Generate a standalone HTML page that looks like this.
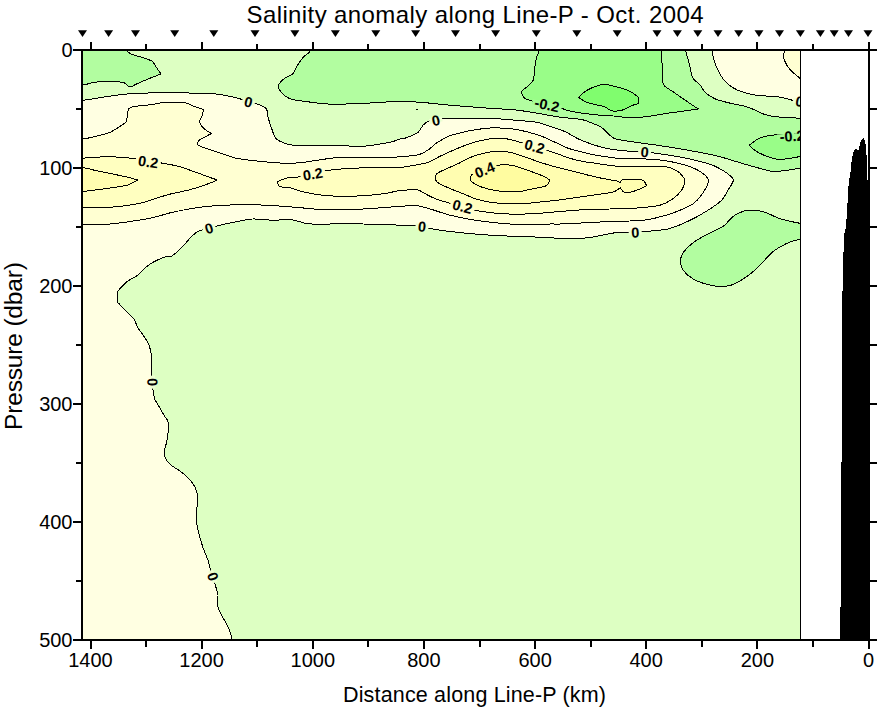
<!DOCTYPE html>
<html lang="en"><head><meta charset="utf-8"><title>Salinity anomaly along Line-P - Oct. 2004</title>
<style>html,body{margin:0;padding:0;background:#fff}body{width:878px;height:708px;overflow:hidden}svg{display:block}text{font-family:"Liberation Sans",Arial,sans-serif;fill:#000}</style></head><body>
<svg width="878" height="708" viewBox="0 0 878 708">
<rect width="878" height="708" fill="#fff"/>
<defs><clipPath id="cp"><rect x="82" y="50" width="718.5" height="590"/></clipPath></defs>
<g clip-path="url(#cp)">
<rect x="82" y="50" width="718.5" height="590" fill="#DDFFC2"/>
<g stroke="#000" stroke-width="1" stroke-linejoin="round" shape-rendering="crispEdges">
<path d="M60.0,100.3C60.0,100.3 77.0,100.6 82.0,100.3C87.0,100.0 95.2,98.4 100.0,97.7C104.8,97.0 115.0,95.3 120.0,94.7C125.0,94.1 133.8,93.5 140.0,93.2C146.2,93.0 163.1,92.7 170.0,92.7C176.9,92.7 189.9,93.0 195.5,93.2C201.1,93.4 210.7,93.5 215.0,93.9C219.3,94.3 226.6,95.7 230.0,96.4C233.4,97.1 239.0,98.6 242.6,99.6C246.2,100.6 255.9,103.5 258.9,104.7C261.9,105.9 265.2,107.3 266.4,108.9C267.6,110.5 267.6,115.4 268.2,117.7C268.8,120.0 270.4,125.0 271.4,127.7C272.4,130.4 274.0,136.9 276.4,139.0C278.8,141.1 285.6,144.0 290.2,144.8C294.8,145.6 306.9,145.2 312.8,145.3C318.8,145.4 331.9,145.2 337.8,145.3C343.8,145.5 355.1,146.7 360.4,146.5C365.7,146.3 376.4,144.6 380.5,144.0C384.6,143.4 390.6,142.1 393.0,141.5C395.4,140.9 398.4,139.4 400.0,139.0C401.6,138.6 403.3,138.8 405.5,138.0C407.7,137.2 415.6,134.2 417.8,132.6C420.0,131.0 421.8,126.5 423.2,125.0C424.6,123.5 427.8,121.6 429.4,121.0C431.0,120.4 434.2,120.5 435.8,120.2C437.4,119.9 438.3,118.8 442.4,118.5C446.5,118.2 463.0,118.2 468.3,118.2C473.6,118.2 481.0,118.2 485.0,118.3C489.0,118.4 496.1,118.7 500.0,118.9C503.9,119.2 511.8,119.9 516.4,120.3C521.0,120.7 532.1,121.4 536.9,122.3C541.7,123.2 551.1,126.6 554.7,127.8C558.3,129.0 562.5,130.5 565.6,131.9C568.7,133.3 575.5,137.7 579.3,139.4C583.1,141.1 592.0,144.3 595.7,145.5C599.5,146.7 606.3,148.3 609.3,148.9C612.3,149.5 617.4,150.0 620.0,150.3C622.6,150.6 626.9,151.1 630.0,151.3C633.1,151.5 641.0,151.7 644.7,152.0C648.5,152.3 655.6,153.2 660.0,153.8C664.4,154.4 675.0,156.1 680.0,157.0C685.0,157.9 695.6,160.2 700.0,161.4C704.4,162.6 711.9,164.8 715.4,166.4C718.9,168.0 725.8,172.2 728.0,173.9C730.2,175.6 733.4,178.2 733.4,180.2C733.4,182.2 729.5,187.7 728.0,190.2C726.5,192.7 724.2,197.7 721.7,200.2C719.2,202.7 712.0,207.7 708.0,210.2C704.0,212.7 695.0,218.0 690.0,220.3C685.0,222.7 674.7,227.5 667.8,229.0C660.9,230.5 641.6,231.8 635.0,232.3C628.4,232.8 620.9,232.1 615.0,232.8C609.1,233.5 594.5,237.1 587.6,237.8C580.7,238.5 564.6,238.3 560.0,238.3C555.4,238.3 554.8,238.0 550.4,237.8C546.0,237.6 531.3,236.8 525.0,236.5C518.7,236.2 506.2,236.1 500.0,235.8C493.8,235.5 481.2,234.5 475.0,234.0C468.8,233.5 455.3,232.1 450.0,231.5C444.7,230.9 436.1,229.6 432.6,229.0C429.1,228.4 424.5,226.9 422.0,226.5C419.5,226.1 415.2,225.9 412.5,225.7C409.8,225.5 403.1,225.3 400.0,225.2C396.9,225.1 392.6,224.8 388.0,224.7C383.4,224.5 369.3,224.2 363.0,224.0C356.7,223.8 342.8,223.1 337.8,223.2C332.8,223.3 326.9,224.7 322.8,224.7C318.7,224.7 309.2,223.8 305.3,223.2C301.4,222.6 295.6,220.1 291.5,219.7C287.4,219.3 277.6,220.3 272.7,220.2C267.8,220.1 257.0,218.8 252.6,219.0C248.2,219.2 241.7,220.7 237.6,221.5C233.5,222.3 223.5,224.4 220.0,225.2C216.5,226.0 212.3,227.4 209.5,228.2C206.7,229.0 200.2,230.3 197.8,231.5C195.4,232.7 192.2,235.9 190.3,237.8C188.4,239.7 185.2,244.2 182.8,246.5C180.5,248.8 173.5,254.9 171.5,256.2C169.5,257.5 168.5,256.0 166.5,256.6C164.5,257.2 158.2,259.6 155.6,260.9C153.0,262.2 147.8,265.5 145.6,267.3C143.4,269.1 140.1,273.3 137.8,275.1C135.5,276.9 129.6,279.6 127.3,281.4C125.0,283.2 120.3,288.2 119.1,289.6C117.8,291.0 117.5,291.3 117.3,292.8C117.1,294.3 117.1,299.9 117.3,301.3C117.5,302.7 117.9,302.5 119.1,303.8C120.3,305.1 124.9,310.1 126.8,312.0C128.7,313.9 132.6,316.9 134.0,318.8C135.4,320.8 136.4,325.4 137.7,327.6C138.9,329.8 142.6,334.2 144.0,336.4C145.4,338.6 148.1,342.5 149.0,345.0C149.9,347.5 151.2,352.9 151.5,356.4C151.8,359.9 151.3,368.5 151.5,372.7C151.7,376.9 152.6,386.7 153.0,390.0C153.4,393.3 153.9,396.9 154.7,399.0C155.4,401.1 157.8,404.5 159.0,406.5C160.2,408.5 162.8,413.3 164.0,415.3C165.2,417.3 167.8,419.8 168.3,422.3C168.8,424.8 168.1,432.5 167.8,435.4C167.5,438.3 166.3,443.3 165.8,445.4C165.3,447.5 163.9,450.6 164.0,452.4C164.1,454.2 165.6,458.4 166.5,460.0C167.4,461.6 169.8,464.1 171.5,465.5C173.2,466.9 178.1,469.6 180.3,471.3C182.5,473.0 187.1,476.8 189.0,478.8C190.9,480.8 194.2,485.1 195.3,487.6C196.4,490.1 197.6,496.0 197.8,498.8C198.0,501.6 196.8,507.0 196.6,510.0C196.4,513.0 196.3,519.7 196.6,522.7C196.9,525.7 198.2,530.9 199.0,534.0C199.8,537.1 201.9,544.4 203.0,547.7C204.1,551.0 207.1,557.6 208.0,560.3C208.9,563.0 209.8,567.0 210.4,569.0C211.0,571.0 212.4,574.5 213.0,576.5C213.6,578.5 214.8,582.9 215.4,585.3C216.0,587.6 217.8,592.8 218.0,595.3C218.2,597.8 216.9,602.9 217.4,605.4C217.9,607.9 220.4,612.7 221.7,615.4C223.0,618.1 226.8,624.2 228.0,626.7C229.2,629.2 230.4,633.5 231.0,635.4C231.6,637.3 232.2,638.9 232.5,642.0C232.8,645.1 233.0,660.0 233.0,660.0L60.0,660.0L60.0,100.3Z" fill="#FFFFE2"/>
<path d="M712.3,30.0C712.3,30.0 712.1,46.8 712.3,50.5C712.5,54.2 713.3,57.6 714.0,60.0C714.7,62.4 716.5,67.5 717.8,70.0C719.0,72.5 722.1,77.9 724.0,80.1C725.9,82.3 730.4,86.1 732.8,87.6C735.2,89.1 739.8,91.1 742.9,92.1C746.0,93.1 753.8,95.1 757.9,95.6C762.0,96.1 771.6,96.0 775.4,96.4C779.2,96.8 785.6,98.3 788.0,98.9C790.4,99.5 792.6,100.5 794.2,100.9C795.8,101.4 797.3,101.9 800.5,102.5C803.7,103.1 820.0,106.0 820.0,106.0L820.0,30.0L712.3,30.0Z" fill="#FFFFE2"/>
<path d="M60.0,139.0C60.0,139.0 77.6,139.3 82.0,139.0C86.4,138.7 91.6,137.4 95.0,136.6C98.4,135.8 106.2,133.9 109.0,132.8C111.8,131.7 115.7,129.2 117.8,127.8C119.9,126.4 124.8,123.6 126.0,122.0C127.2,120.4 127.0,116.9 127.3,115.3C127.6,113.7 127.8,110.1 128.6,109.0C129.4,107.9 131.3,107.0 134.0,106.5C136.7,106.0 146.5,105.3 150.4,104.8C154.3,104.3 161.0,102.5 165.4,102.3C169.8,102.0 181.9,102.3 185.5,102.8C189.1,103.3 191.9,105.7 194.2,106.5C196.4,107.3 203.5,109.5 203.5,109.5C203.5,109.5 202.3,114.9 201.8,116.5C201.3,118.1 199.4,120.4 199.7,122.0C200.0,123.6 202.8,127.6 204.3,129.0C205.8,130.4 211.8,133.3 211.8,133.3C211.8,133.3 205.9,136.4 204.3,137.3C202.7,138.2 199.8,139.4 199.0,140.4C198.2,141.4 196.9,143.9 198.0,145.0C199.1,146.1 205.2,148.0 208.0,149.0C210.8,150.0 216.6,151.8 220.0,152.9C223.4,154.0 231.0,157.0 235.4,158.0C239.8,159.0 249.4,160.2 255.0,160.8C260.6,161.4 274.4,162.8 280.0,163.0C285.6,163.2 295.0,163.2 300.0,162.8C305.0,162.4 315.0,160.5 320.0,159.8C325.0,159.1 334.4,157.6 340.0,157.3C345.6,157.1 358.8,157.7 365.0,157.8C371.2,157.9 385.6,158.0 390.0,157.8C394.4,157.6 397.2,156.8 400.0,156.5C402.8,156.2 409.7,156.1 412.3,155.8C414.9,155.5 418.4,154.8 420.5,154.0C422.6,153.2 426.6,151.0 428.7,149.6C430.8,148.2 434.3,144.5 436.9,142.8C439.5,141.1 446.1,137.3 449.2,136.0C452.3,134.7 458.8,133.3 461.5,132.6C464.2,131.9 468.1,131.0 471.0,130.5C473.9,130.0 481.6,128.8 484.7,128.5C487.8,128.2 492.1,127.7 495.7,127.8C499.3,127.9 509.8,128.6 513.7,129.1C517.7,129.6 523.9,131.0 527.3,131.9C530.7,132.8 537.6,134.7 541.0,136.0C544.4,137.3 551.3,140.6 554.7,142.1C558.1,143.6 564.9,147.1 568.3,148.3C571.7,149.6 578.6,151.2 582.0,152.1C585.4,152.9 592.3,154.5 595.7,155.1C599.1,155.7 606.3,156.8 609.3,157.2C612.3,157.6 615.8,158.3 620.0,158.5C624.2,158.7 637.1,158.5 642.7,158.8C648.3,159.1 659.7,159.8 665.0,160.6C670.3,161.4 680.6,163.8 685.0,165.1C689.4,166.4 697.1,169.5 700.0,171.4C702.9,173.3 708.0,177.5 708.4,180.2C708.8,182.9 705.0,189.7 703.0,192.7C701.0,195.7 696.9,201.3 692.8,204.0C688.7,206.7 676.3,212.0 670.0,214.0C663.7,216.0 650.2,219.4 642.7,220.3C635.2,221.2 617.2,221.2 610.0,221.5C602.8,221.8 591.2,222.5 585.0,222.8C578.8,223.1 564.3,223.8 560.0,224.0C555.7,224.2 554.8,223.9 550.4,224.0C546.0,224.1 531.3,224.8 525.0,224.7C518.7,224.6 506.2,223.8 500.0,223.2C493.8,222.6 481.2,221.2 475.0,220.2C468.8,219.2 455.6,216.6 450.0,215.2C444.4,213.8 434.4,210.2 430.0,208.9C425.6,207.7 418.1,205.6 415.0,205.2C411.9,204.8 408.4,205.8 405.0,206.0C401.6,206.2 393.2,206.8 388.0,207.2C382.8,207.6 370.9,208.7 363.0,209.0C355.1,209.3 332.9,209.9 325.0,209.7C317.1,209.5 306.2,208.2 300.0,207.7C293.8,207.2 281.2,206.1 275.0,205.7C268.8,205.3 256.2,204.8 250.0,204.7C243.8,204.6 231.2,204.9 225.0,205.2C218.8,205.5 206.5,206.3 200.0,207.2C193.5,208.1 178.7,210.9 172.8,212.2C166.9,213.5 158.0,216.5 152.7,217.7C147.4,218.9 135.5,220.7 130.2,221.5C124.9,222.3 116.0,223.6 110.0,224.0C104.0,224.4 88.8,224.6 82.5,224.7C76.2,224.8 60.0,224.7 60.0,224.7L60.0,139.0Z" fill="#FFFFD2"/>
<path d="M784.2,30.0C784.2,30.0 784.3,47.1 784.2,50.5C784.1,53.9 783.4,55.7 783.7,57.5C784.0,59.3 785.7,63.3 786.7,65.0C787.7,66.7 790.0,69.6 791.7,71.3C793.4,73.0 797.0,75.8 800.5,78.8C804.0,81.8 820.0,95.0 820.0,95.0L820.0,30.0L784.2,30.0Z" fill="#FFFFD2"/>
<path d="M60.0,158.2C60.0,158.2 77.0,158.3 82.0,158.2C87.0,158.0 95.2,157.1 100.0,157.0C104.8,156.9 115.3,156.9 120.0,157.2C124.7,157.5 134.3,158.7 137.8,159.3C141.3,159.9 145.5,161.4 148.3,161.8C151.1,162.2 156.4,162.2 160.2,162.8C164.0,163.4 174.5,165.3 179.0,166.5C183.5,167.7 192.6,171.1 196.5,172.5C200.4,173.9 207.8,176.7 210.4,177.6C213.0,178.5 217.4,180.0 217.4,180.0C217.4,180.0 211.3,182.7 207.9,183.9C204.5,185.1 195.3,188.2 190.3,189.6C185.3,190.9 173.8,193.1 167.8,194.7C161.9,196.3 148.3,201.3 142.7,202.7C137.1,204.1 127.7,205.4 122.7,206.0C117.7,206.6 107.6,207.5 102.6,207.7C97.6,207.9 87.8,207.7 82.5,207.7C77.2,207.7 60.0,207.7 60.0,207.7L60.0,158.2Z" fill="#FFFFC0"/>
<path d="M277.7,181.6C277.7,181.6 284.6,178.4 287.7,177.8C290.8,177.2 299.7,177.1 302.8,176.6C305.9,176.1 310.0,174.7 312.8,174.0C315.6,173.3 320.6,171.5 325.3,170.8C330.0,170.1 344.1,168.7 350.4,168.3C356.7,167.9 369.2,167.9 375.4,167.8C381.6,167.7 395.2,167.7 400.0,167.4C404.8,167.1 410.3,166.0 413.7,165.4C417.1,164.8 423.9,163.8 427.3,162.6C430.7,161.4 437.6,157.4 441.0,155.8C444.4,154.2 451.3,151.1 454.7,149.6C458.1,148.1 464.9,145.4 468.3,144.2C471.7,143.0 478.6,141.0 482.0,140.3C485.4,139.6 492.5,138.5 495.7,138.3C498.9,138.1 504.1,138.4 507.5,139.0C510.9,139.6 519.8,142.2 523.2,143.1C526.6,144.0 532.0,145.3 534.9,146.2C537.8,147.1 543.7,149.4 546.5,150.3C549.3,151.2 554.7,152.8 557.4,153.7C560.1,154.6 565.2,156.9 568.3,157.8C571.4,158.8 578.6,160.6 582.0,161.3C585.4,162.0 592.3,162.8 595.7,163.3C599.1,163.8 606.3,165.0 609.3,165.4C612.3,165.8 615.5,166.2 620.0,166.3C624.5,166.4 639.4,166.4 645.0,166.4C650.6,166.4 660.9,165.8 665.0,166.4C669.1,167.0 675.3,169.7 677.8,171.4C680.3,173.1 684.3,177.8 684.8,180.2C685.3,182.5 683.1,187.9 681.6,190.2C680.1,192.5 675.5,197.0 672.8,198.9C670.1,200.8 664.7,204.0 660.0,205.2C655.3,206.4 641.2,207.7 635.0,208.2C628.8,208.7 616.2,208.8 610.0,209.0C603.8,209.2 591.2,209.4 585.0,209.7C578.8,210.0 566.0,211.0 560.0,211.5C554.0,212.0 542.2,213.2 536.6,213.5C531.0,213.8 520.3,214.3 514.8,214.2C509.3,214.1 497.9,213.4 492.9,212.9C487.9,212.4 478.5,211.0 474.7,210.2C470.9,209.4 465.5,207.3 462.5,206.5C459.5,205.7 454.4,204.5 451.0,203.5C447.6,202.5 439.0,200.2 435.5,198.8C432.0,197.5 425.4,193.8 423.2,192.7C421.0,191.6 420.7,190.3 417.8,190.0C414.9,189.7 404.0,190.2 400.0,190.6C396.0,191.0 390.4,192.7 385.5,193.4C380.6,194.1 367.3,195.6 360.4,195.9C353.5,196.2 337.2,196.3 330.3,195.9C323.4,195.5 310.3,193.4 305.3,192.4C300.3,191.4 293.4,188.6 290.2,187.9C287.0,187.2 281.3,187.4 279.7,186.6C278.1,185.8 277.7,181.6 277.7,181.6Z" fill="#FFFFC0"/>
<path d="M60.0,167.5C60.0,167.5 77.3,167.1 82.0,167.5C86.7,167.9 93.3,170.1 97.6,171.0C101.8,171.9 112.0,173.8 116.0,174.7C120.0,175.5 127.3,177.1 130.0,177.8C132.7,178.5 137.7,180.0 137.7,180.0C137.7,180.0 131.2,184.0 127.7,185.0C124.2,186.0 114.1,187.4 110.0,188.0C105.9,188.6 98.4,189.6 95.0,190.0C91.6,190.4 86.9,191.2 82.5,191.4C78.1,191.6 60.0,191.4 60.0,191.4L60.0,167.5Z" fill="#FFFDB0"/>
<path d="M435.3,177.5C435.5,176.7 435.7,174.6 436.9,173.6C438.1,172.6 442.5,170.6 445.1,169.4C447.7,168.2 454.2,165.5 457.4,164.0C460.6,162.5 467.9,158.5 471.0,157.2C474.1,155.9 479.1,154.4 482.0,153.7C484.9,153.0 491.2,151.5 494.3,151.3C497.4,151.1 504.3,151.5 507.0,151.8C509.7,152.1 513.5,153.2 516.0,154.0C518.5,154.8 524.2,156.7 527.3,157.8C530.4,158.9 537.6,161.5 541.0,162.6C544.4,163.7 551.3,165.8 554.7,166.7C558.1,167.6 564.9,169.2 568.3,170.1C571.7,171.0 578.6,172.7 582.0,173.6C585.4,174.5 592.3,176.2 595.7,177.0C599.1,177.8 606.6,179.2 609.3,179.7C612.0,180.2 616.1,180.7 617.5,181.1C618.9,181.5 620.2,183.0 620.2,183.0C620.2,183.0 621.1,180.0 622.2,179.6C623.3,179.2 626.3,179.3 628.9,179.4C631.5,179.5 640.5,179.4 642.7,180.2C644.9,181.0 646.5,185.7 646.5,185.7C646.5,185.7 642.2,188.1 640.2,188.9C638.2,189.7 632.2,191.8 630.2,192.2C628.2,192.6 625.2,192.8 624.0,192.2C622.8,191.6 620.2,187.7 620.2,187.7C620.2,187.7 616.5,191.1 613.4,192.0C610.3,192.9 600.3,194.0 595.7,194.7C591.1,195.4 581.0,196.8 576.5,197.5C572.0,198.2 564.6,199.3 560.1,199.9C555.6,200.5 545.1,201.5 540.3,202.0C535.5,202.5 526.3,203.6 522.0,203.8C517.7,204.0 509.7,204.0 505.6,203.8C501.5,203.6 493.0,202.6 489.2,202.0C485.4,201.4 478.1,199.7 475.2,198.8C472.2,197.9 468.5,195.9 465.6,194.7C462.7,193.5 455.1,190.7 451.9,189.3C448.6,187.9 441.7,185.0 439.6,183.8C437.5,182.6 435.8,180.5 435.3,179.7C434.8,178.9 435.1,178.3 435.3,177.5Z" fill="#FFFDB0"/>
<path d="M470.4,179.0C470.3,178.1 470.6,176.1 471.8,174.9C473.0,173.7 476.9,170.7 480.0,169.5C483.1,168.3 492.3,165.9 496.3,165.4C500.3,164.9 508.4,164.8 512.3,165.4C516.2,166.0 523.4,168.7 527.3,170.1C531.2,171.5 540.9,175.1 543.7,176.3C546.5,177.5 549.5,180.0 549.5,180.0C549.5,180.0 548.6,184.7 545.8,185.9C543.0,187.2 530.6,189.3 527.3,190.0C524.0,190.7 521.4,191.5 519.1,191.7C516.9,191.9 512.2,191.8 509.3,191.7C506.4,191.6 499.1,191.2 495.7,190.6C492.3,190.0 484.9,188.2 482.0,187.2C479.1,186.2 473.8,183.4 472.4,182.4C470.9,181.4 470.5,179.9 470.4,179.0Z" fill="#FFFCA0"/>
<path d="M126.6,30.0C126.6,30.0 125.8,46.9 126.6,50.0C127.4,53.1 130.6,53.6 132.8,54.6C135.0,55.6 141.6,57.1 144.0,58.0C146.4,58.9 150.8,60.2 152.4,61.4C154.0,62.6 155.5,66.1 156.6,67.7C157.7,69.3 161.0,74.0 161.0,74.0C161.0,74.0 155.1,76.2 153.0,77.0C150.9,77.8 146.1,79.8 144.0,80.7C141.9,81.6 138.2,83.3 136.6,84.0C135.0,84.7 132.7,86.2 131.6,86.5C130.5,86.8 128.8,86.5 127.8,86.0C126.8,85.5 125.7,83.3 124.0,82.7C122.3,82.1 116.7,81.7 114.0,81.5C111.3,81.3 105.5,81.3 102.8,81.5C100.1,81.7 95.3,82.2 92.7,82.7C90.1,83.2 86.1,84.7 82.0,85.2C77.9,85.7 60.0,87.0 60.0,87.0L60.0,30.0L126.6,30.0Z" fill="#B2FDA0"/>
<path d="M310.3,30.0C310.3,30.0 311.1,47.2 310.3,50.5C309.5,53.8 305.6,54.5 304.0,56.3C302.4,58.1 299.1,62.8 297.7,65.0C296.3,67.2 294.4,72.1 292.7,73.8C291.0,75.5 285.8,77.3 284.0,78.8C282.2,80.3 278.7,83.9 278.4,85.6C278.1,87.3 280.0,90.9 281.5,92.6C283.0,94.3 287.2,97.8 290.2,98.9C293.2,100.0 300.9,100.8 305.3,101.4C309.7,102.0 319.7,103.6 325.3,103.9C330.9,104.2 344.1,104.1 350.4,103.9C356.7,103.8 369.1,103.0 375.4,102.7C381.7,102.4 394.3,101.2 400.5,101.2C406.7,101.2 418.8,102.2 425.0,102.7C431.2,103.2 443.8,104.6 450.0,105.2C456.2,105.8 468.8,106.7 475.0,107.2C481.2,107.7 494.8,108.6 500.0,108.9C505.2,109.2 512.1,109.5 516.4,110.0C520.7,110.5 529.1,111.9 534.2,112.7C539.3,113.5 551.4,115.9 557.4,116.8C563.4,117.7 577.6,118.8 582.0,119.6C586.4,120.4 590.4,122.6 592.8,123.5C595.2,124.4 599.2,125.8 601.1,127.1C603.0,128.3 606.3,132.1 608.0,133.5C609.7,134.9 612.0,137.7 614.8,138.7C617.5,139.7 625.4,140.8 630.0,141.5C634.6,142.2 646.4,143.7 652.0,144.5C657.6,145.3 669.2,147.0 675.2,148.0C681.2,149.0 694.7,151.4 700.3,152.5C705.9,153.6 715.7,155.6 720.3,156.8C724.9,158.0 732.4,160.5 737.0,161.8C741.6,163.2 752.5,166.4 757.0,167.6C761.5,168.8 768.8,171.2 773.0,171.5C777.2,171.8 787.1,170.2 790.5,169.8C793.9,169.4 796.8,168.6 800.5,168.0C804.2,167.4 820.0,165.0 820.0,165.0L820.0,118.5C820.0,118.5 805.4,118.4 800.5,118.2C795.6,118.0 784.9,117.6 780.5,117.2C776.1,116.8 768.5,115.6 765.4,114.7C762.3,113.8 757.9,111.2 755.4,110.2C752.9,109.2 748.5,107.3 745.4,106.4C742.3,105.5 734.1,104.1 730.3,103.2C726.5,102.3 718.4,100.2 715.3,98.9C712.2,97.6 707.2,94.3 705.3,92.6C703.4,90.9 701.9,87.0 700.3,85.1C698.7,83.2 694.1,80.4 692.7,77.6C691.3,74.8 689.9,66.0 689.0,62.6C688.1,59.2 686.1,54.6 685.7,50.5C685.3,46.4 685.7,30.0 685.7,30.0L310.3,30.0Z" fill="#B2FDA0"/>
<path d="M820.0,225.0C820.0,225.0 804.5,223.8 800.9,223.4C797.2,223.0 793.6,222.1 790.8,221.4C788.0,220.7 781.4,219.2 778.3,218.1C775.2,217.0 768.9,213.6 765.8,212.6C762.7,211.6 756.0,210.3 753.2,210.1C750.4,209.9 745.7,210.5 743.2,211.3C740.7,212.1 735.7,214.4 733.2,216.3C730.7,218.2 726.3,224.2 723.2,226.4C720.1,228.6 711.9,231.9 708.1,233.9C704.3,235.9 696.2,240.3 693.1,242.7C690.0,245.0 684.7,250.3 683.1,252.7C681.5,255.0 680.6,259.3 680.6,261.5C680.6,263.7 681.5,268.0 683.1,270.2C684.7,272.4 690.3,277.3 693.1,279.0C695.9,280.7 702.5,283.1 705.6,284.0C708.7,284.9 715.1,286.3 718.2,286.5C721.3,286.7 727.6,286.2 730.7,285.3C733.8,284.4 740.4,280.7 743.2,279.0C746.0,277.3 750.7,273.7 753.2,271.5C755.7,269.3 760.8,264.0 763.3,261.5C765.8,259.0 770.5,253.6 773.3,251.4C776.1,249.2 783.0,245.3 785.8,243.9C788.6,242.5 793.9,240.7 795.8,240.2C797.7,239.7 797.9,239.8 800.9,239.6C803.9,239.4 820.0,238.5 820.0,238.5L820.0,225.0Z" fill="#B2FDA0"/>
<path d="M539.0,30.0C539.0,30.0 539.3,47.1 539.0,50.5C538.7,53.9 537.1,55.4 536.6,57.5C536.1,59.6 535.2,64.8 534.8,67.6C534.4,70.4 534.2,77.7 533.3,80.0C532.4,82.3 529.3,85.0 527.8,86.4C526.3,87.8 522.1,90.0 521.6,91.4C521.1,92.8 522.6,96.3 524.0,97.6C525.4,98.8 529.8,100.5 532.8,101.4C535.8,102.3 544.4,103.9 547.9,104.7C551.4,105.5 557.9,107.2 560.4,107.9C562.9,108.7 566.1,110.1 568.3,110.7C570.5,111.3 574.4,112.0 577.8,112.5C581.2,113.0 591.2,114.4 595.7,114.8C600.2,115.2 609.5,115.7 613.4,116.0C617.3,116.3 623.2,117.3 627.0,117.4C630.8,117.5 639.5,117.3 643.4,117.0C647.3,116.7 655.4,115.2 658.4,114.7C661.4,114.2 664.4,113.7 667.7,113.2C671.1,112.7 681.4,111.4 685.2,110.9C689.0,110.4 698.2,108.9 698.2,108.9C698.2,108.9 688.4,102.4 685.2,100.2C682.0,98.0 675.1,93.2 672.5,91.4C669.9,89.7 666.0,87.6 664.7,86.2C663.5,84.8 662.8,83.5 662.5,80.5C662.2,77.5 662.1,66.3 662.0,62.6C661.9,58.9 661.6,54.6 661.5,50.5C661.4,46.4 661.5,30.0 661.5,30.0L539.0,30.0Z" fill="#99FD88"/>
<path d="M820.0,133.0C820.0,133.0 805.4,133.6 800.5,133.8C795.6,134.0 784.6,134.2 780.5,134.5C776.4,134.8 770.8,135.2 768.0,135.8C765.2,136.4 760.3,137.8 758.0,139.0C755.7,140.2 749.4,145.2 749.4,145.2C749.4,145.2 753.5,149.5 755.5,150.8C757.5,152.1 762.7,154.7 765.5,155.8C768.3,156.9 774.9,159.0 778.0,159.3C781.1,159.6 787.7,158.7 790.5,158.3C793.3,158.0 796.8,157.0 800.5,156.5C804.2,156.0 820.0,154.0 820.0,154.0L820.0,133.0Z" fill="#99FD88"/>
<path d="M578.5,97.2C578.5,97.2 584.6,91.6 587.3,90.1C590.0,88.5 597.7,85.5 600.3,84.8C602.9,84.1 605.0,84.3 607.8,84.8C610.6,85.3 620.0,87.8 622.9,88.7C625.8,89.6 629.1,90.8 631.1,91.9C633.1,93.0 638.6,97.2 638.6,97.2L638.6,103.7C638.6,103.7 633.1,105.0 631.1,105.8C629.1,106.6 624.9,109.2 622.9,109.9C620.9,110.6 616.9,111.2 615.4,111.2C613.9,111.2 612.1,110.9 610.6,110.3C609.1,109.7 606.6,107.5 603.7,106.5C600.8,105.5 590.4,103.8 587.3,102.6C584.1,101.4 578.5,97.2 578.5,97.2Z" fill="#80FD6E"/>
<rect x="415.5" y="109" width="2" height="1" fill="#000" stroke="none"/>
</g>
<g font-weight="bold" font-size="14.5px" text-anchor="middle">
<g transform="translate(248.5,102) rotate(14)"><rect x="-6.5" y="-2.5" width="13" height="5" fill="#EEFFD2"/><text x="0" y="5.2">0</text></g>
<g transform="translate(148.3,161.8) rotate(8)"><rect x="-12.5" y="-2.5" width="25" height="5" fill="#FFFFC9"/><text x="0" y="5.2">0.2</text></g>
<g transform="translate(312.8,174) rotate(-9)"><rect x="-12.5" y="-2.5" width="25" height="5" fill="#FFFFC9"/><text x="0" y="5.2">0.2</text></g>
<g transform="translate(209,228.2) rotate(-18)"><rect x="-6.5" y="-2.5" width="13" height="5" fill="#EEFFD2"/><text x="0" y="5.2">0</text></g>
<g transform="translate(435.8,120.2) rotate(-12)"><rect x="-6.5" y="-2.5" width="13" height="5" fill="#EEFFD2"/><text x="0" y="5.2">0</text></g>
<g transform="translate(534.6,146.4) rotate(15)"><rect x="-12.5" y="-2.5" width="25" height="5" fill="#FFFFC9"/><text x="0" y="5.2">0.2</text></g>
<g transform="translate(484.7,169.8) rotate(-22)"><rect x="-12.5" y="-2.5" width="25" height="5" fill="#FFFCA8"/><text x="0" y="5.2">0.4</text></g>
<g transform="translate(462.5,206.5) rotate(15)"><rect x="-12.5" y="-2.5" width="25" height="5" fill="#FFFFC9"/><text x="0" y="5.2">0.2</text></g>
<g transform="translate(422,226.5) rotate(6)"><rect x="-6.5" y="-2.5" width="13" height="5" fill="#EEFFD2"/><text x="0" y="5.2">0</text></g>
<g transform="translate(547,104.7) rotate(12)"><rect x="-15.0" y="-2.5" width="30" height="5" fill="#A5FD94"/><text x="0" y="5.2">-0.2</text></g>
<g transform="translate(644.6,152) rotate(5)"><rect x="-6.5" y="-2.5" width="13" height="5" fill="#EEFFD2"/><text x="0" y="5.2">0</text></g>
<g transform="translate(635.2,232.3) rotate(-3)"><rect x="-6.5" y="-2.5" width="13" height="5" fill="#EEFFD2"/><text x="0" y="5.2">0</text></g>
<g transform="translate(792,136) rotate(-4)"><rect x="-15.0" y="-2.5" width="30" height="5" fill="#A5FD94"/><text x="0" y="5.2">-0.2</text></g>
<g transform="translate(799.5,101.4) rotate(10)"><rect x="-6.5" y="-2.5" width="13" height="5" fill="#EEFFD2"/><text x="0" y="5.2">0</text></g>
<g transform="translate(152.7,382.2) rotate(88)"><rect x="-6.5" y="-2.5" width="13" height="5" fill="#EEFFD2"/><text x="0" y="5.2">0</text></g>
<g transform="translate(212.9,576.5) rotate(70)"><rect x="-6.5" y="-2.5" width="13" height="5" fill="#EEFFD2"/><text x="0" y="5.2">0</text></g>
</g>
</g>
<rect x="800" y="50" width="1" height="590" fill="#000" shape-rendering="crispEdges"/>
<polygon fill="#000" shape-rendering="crispEdges" points="863.5,137.9 861,140.2 860,143.9 859,148 858.3,151.1 857,149.4 855.6,149 854.2,150 853.2,153.2 852.2,157.3 851.3,163.6 850.4,172.8 849.2,180 848.1,190 847.4,205 846.2,224 845.2,231 844,234.2 844,252 843,252 843,291 842,291 842,462 841,462 841,607 840,607 840,640 869,640 869,180 866.9,180 866.9,160.3 865.8,146 864.8,140.2"/>
<g fill="#000" shape-rendering="crispEdges">
<rect x="81" y="49" width="789" height="2"/>
<rect x="81" y="639" width="789" height="2"/>
<rect x="81" y="49" width="2" height="592"/>
<rect x="868" y="49" width="2" height="592"/>
<rect x="90" y="42" width="2" height="7"/>
<rect x="90" y="641" width="2" height="8"/>
<rect x="145" y="44" width="2" height="5"/>
<rect x="145" y="641" width="2" height="6"/>
<rect x="201" y="42" width="2" height="7"/>
<rect x="201" y="641" width="2" height="8"/>
<rect x="256" y="44" width="2" height="5"/>
<rect x="256" y="641" width="2" height="6"/>
<rect x="312" y="42" width="2" height="7"/>
<rect x="312" y="641" width="2" height="8"/>
<rect x="367" y="44" width="2" height="5"/>
<rect x="367" y="641" width="2" height="6"/>
<rect x="423" y="42" width="2" height="7"/>
<rect x="423" y="641" width="2" height="8"/>
<rect x="479" y="44" width="2" height="5"/>
<rect x="479" y="641" width="2" height="6"/>
<rect x="534" y="42" width="2" height="7"/>
<rect x="534" y="641" width="2" height="8"/>
<rect x="590" y="44" width="2" height="5"/>
<rect x="590" y="641" width="2" height="6"/>
<rect x="645" y="42" width="2" height="7"/>
<rect x="645" y="641" width="2" height="8"/>
<rect x="701" y="44" width="2" height="5"/>
<rect x="701" y="641" width="2" height="6"/>
<rect x="756" y="42" width="2" height="7"/>
<rect x="756" y="641" width="2" height="8"/>
<rect x="812" y="44" width="2" height="5"/>
<rect x="812" y="641" width="2" height="6"/>
<rect x="868" y="42" width="2" height="7"/>
<rect x="868" y="641" width="2" height="8"/>
<rect x="73" y="49" width="8" height="2"/>
<rect x="870" y="49" width="7" height="2"/>
<rect x="76" y="108" width="5" height="2"/>
<rect x="870" y="108" width="7" height="2"/>
<rect x="73" y="167" width="8" height="2"/>
<rect x="870" y="167" width="7" height="2"/>
<rect x="76" y="226" width="5" height="2"/>
<rect x="870" y="226" width="7" height="2"/>
<rect x="73" y="285" width="8" height="2"/>
<rect x="870" y="285" width="7" height="2"/>
<rect x="76" y="344" width="5" height="2"/>
<rect x="870" y="344" width="7" height="2"/>
<rect x="73" y="403" width="8" height="2"/>
<rect x="870" y="403" width="7" height="2"/>
<rect x="76" y="462" width="5" height="2"/>
<rect x="870" y="462" width="7" height="2"/>
<rect x="73" y="521" width="8" height="2"/>
<rect x="870" y="521" width="7" height="2"/>
<rect x="76" y="580" width="5" height="2"/>
<rect x="870" y="580" width="7" height="2"/>
<rect x="73" y="639" width="8" height="2"/>
<rect x="870" y="639" width="7" height="2"/>
</g>
<g fill="#000">
<polygon points="78.0,30.2 87.0,30.2 82.5,37"/>
<polygon points="104.1,30.2 113.1,30.2 108.6,37"/>
<polygon points="131.0,30.2 140.0,30.2 135.5,37"/>
<polygon points="170.2,30.2 179.2,30.2 174.7,37"/>
<polygon points="209.3,30.2 218.3,30.2 213.8,37"/>
<polygon points="250.5,30.2 259.5,30.2 255,37"/>
<polygon points="290.4,30.2 299.4,30.2 294.9,37"/>
<polygon points="330.9,30.2 339.9,30.2 335.4,37"/>
<polygon points="371.3,30.2 380.3,30.2 375.8,37"/>
<polygon points="411.1,30.2 420.1,30.2 415.6,37"/>
<polygon points="451.0,30.2 460.0,30.2 455.5,37"/>
<polygon points="491.1,30.2 500.1,30.2 495.6,37"/>
<polygon points="531.8,30.2 540.8,30.2 536.3,37"/>
<polygon points="572.3,30.2 581.3,30.2 576.8,37"/>
<polygon points="612.7,30.2 621.7,30.2 617.2,37"/>
<polygon points="652.5,30.2 661.5,30.2 657,37"/>
<polygon points="672.9,30.2 681.9,30.2 677.4,37"/>
<polygon points="693.3,30.2 702.3,30.2 697.8,37"/>
<polygon points="713.5,30.2 722.5,30.2 718,37"/>
<polygon points="734.2,30.2 743.2,30.2 738.7,37"/>
<polygon points="754.5,30.2 763.5,30.2 759,37"/>
<polygon points="775.0,30.2 784.0,30.2 779.5,37"/>
<polygon points="795.9,30.2 804.9,30.2 800.4,37"/>
<polygon points="815.9,30.2 824.9,30.2 820.4,37"/>
<polygon points="829.7,30.2 838.7,30.2 834.2,37"/>
<polygon points="844.0,30.2 853.0,30.2 848.5,37"/>
<polygon points="863.5,30.2 872.5,30.2 868,37"/>
</g>
<text x="475" y="22.8" font-size="24px" text-anchor="middle" textLength="457" lengthAdjust="spacing">Salinity anomaly along Line-P - Oct. 2004</text>
<text x="474.5" y="701.5" font-size="21.5px" text-anchor="middle" textLength="263" lengthAdjust="spacing">Distance along Line-P (km)</text>
<text transform="translate(22.3,346) rotate(-90)" font-size="24.6px" text-anchor="middle" textLength="168" lengthAdjust="spacing">Pressure (dbar)</text>
<g font-size="20px" text-anchor="middle">
<text x="90.5" y="666.8">1400</text>
<text x="201.6" y="666.8">1200</text>
<text x="312.8" y="666.8">1000</text>
<text x="423.9" y="666.8">800</text>
<text x="535.1" y="666.8">600</text>
<text x="646.2" y="666.8">400</text>
<text x="757.4" y="666.8">200</text>
<text x="868.5" y="666.8">0</text>
</g>
<g font-size="20px" text-anchor="end">
<text x="72.5" y="56.9">0</text>
<text x="72.5" y="174.9">100</text>
<text x="72.5" y="292.9">200</text>
<text x="72.5" y="410.9">300</text>
<text x="72.5" y="528.9">400</text>
<text x="72.5" y="646.9">500</text>
</g>
</svg></body></html>
